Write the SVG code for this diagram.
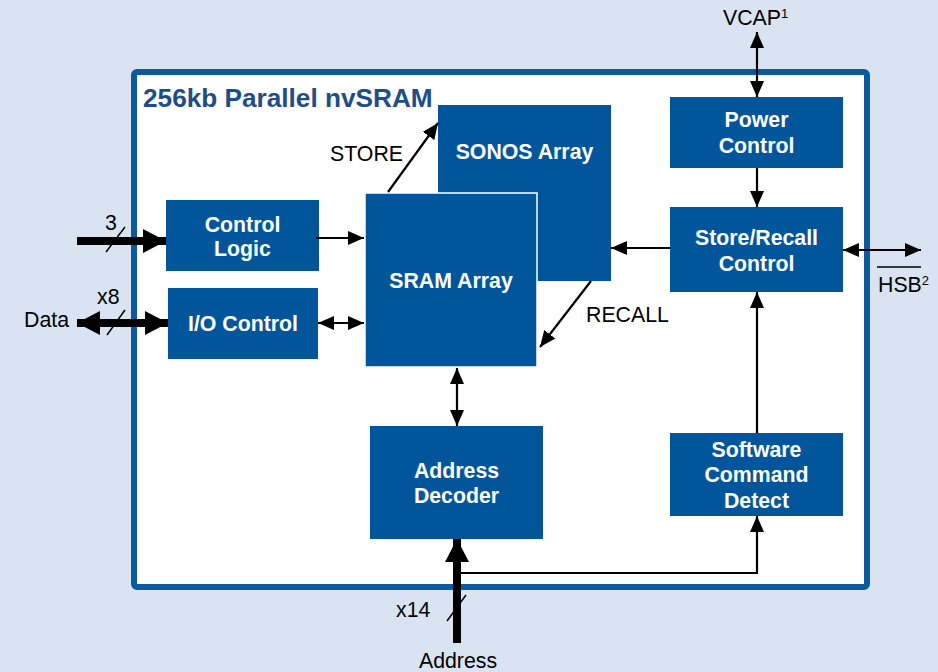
<svg xmlns="http://www.w3.org/2000/svg" width="938" height="672" viewBox="0 0 938 672">
<style>
.bg{fill:#D9E3F1}
.frame{fill:#FFFFFF;stroke:#0B5AA0;stroke-width:6}
.node{fill:#01559B}
.nt{font-family:"Liberation Sans",Arial,sans-serif;font-weight:bold;font-size:21.3px;fill:#FFFFFF;text-anchor:middle}
.lbl{font-family:"Liberation Sans",Arial,sans-serif;font-size:21.3px;fill:#000000}
.title{font-family:"Liberation Sans",Arial,sans-serif;font-weight:bold;font-size:26.2px;fill:#1F4D87}
.thin{stroke:#000;stroke-width:2.2;fill:none}
.thick{stroke:#000;stroke-width:8;fill:none}
.slash{stroke:#000;stroke-width:1.5;fill:none}
</style>
<defs>
<marker id="ah" viewBox="0 0 16 14" refX="16" refY="7" markerWidth="16" markerHeight="14" markerUnits="userSpaceOnUse" orient="auto-start-reverse">
<path d="M0,0 L16,7 L0,14 z" fill="#000"/>
</marker>
<marker id="AH" viewBox="0 0 23 24" refX="23" refY="12" markerWidth="23" markerHeight="24" markerUnits="userSpaceOnUse" orient="auto-start-reverse">
<path d="M0,0 L23,12 L0,24 z" fill="#000"/>
</marker>
</defs>
<rect class="bg" x="0" y="0" width="938" height="672"/>
<rect class="frame" x="134" y="72" width="733" height="515" rx="3"/>
<text class="title" x="143" y="107">256kb Parallel nvSRAM</text>

<g id="control-logic"><rect class="node" x="166" y="200" width="153" height="71"/><text class="nt" x="242.5" y="232">Control</text><text class="nt" x="242.5" y="256">Logic</text></g>
<g id="io-control"><rect class="node" x="168" y="288" width="150" height="71"/><text class="nt" x="243" y="331">I/O Control</text></g>
<g id="sonos-array"><rect class="node" x="438" y="105" width="173" height="176"/><text class="nt" x="524.5" y="159">SONOS Array</text></g>
<g id="sram-array"><rect class="node" x="365" y="193" width="172" height="174" stroke="#FFFFFF" stroke-width="1.5"/><text class="nt" x="451" y="288">SRAM Array</text></g>
<g id="power-control"><rect class="node" x="670" y="97" width="173" height="71"/><text class="nt" x="756.5" y="127">Power</text><text class="nt" x="756.5" y="153">Control</text></g>
<g id="store-recall-control"><rect class="node" x="670" y="207" width="173" height="85"/><text class="nt" x="756.5" y="245">Store/Recall</text><text class="nt" x="756.5" y="271">Control</text></g>
<g id="address-decoder"><rect class="node" x="370" y="426" width="173" height="113"/><text class="nt" x="456.5" y="478">Address</text><text class="nt" x="456.5" y="503">Decoder</text></g>
<g id="software-command-detect"><rect class="node" x="670" y="433" width="173" height="83"/><text class="nt" x="756.5" y="457">Software</text><text class="nt" x="756.5" y="482">Command</text><text class="nt" x="756.5" y="508">Detect</text></g>

<g id="connectors">
<line class="thick" x1="77" y1="241" x2="166" y2="241" marker-end="url(#AH)"/>
<line class="slash" x1="106" y1="252" x2="125" y2="227"/>
<line class="thick" x1="77" y1="323" x2="168" y2="323" marker-start="url(#AH)" marker-end="url(#AH)"/>
<line class="slash" x1="107" y1="335" x2="125" y2="310"/>
<line class="thin" x1="316" y1="238" x2="364" y2="238" marker-end="url(#ah)"/>
<line class="thin" x1="318" y1="323" x2="364" y2="323" marker-start="url(#ah)" marker-end="url(#ah)"/>
<line class="thin" x1="388" y1="192" x2="438" y2="123" marker-end="url(#ah)"/>
<line class="thin" x1="591" y1="281" x2="540" y2="347" marker-end="url(#ah)"/>
<line class="thin" x1="670" y1="248" x2="611" y2="248" marker-end="url(#ah)"/>
<line class="thin" x1="757" y1="32" x2="757" y2="97" marker-start="url(#ah)" marker-end="url(#ah)"/>
<line class="thin" x1="757" y1="168" x2="757" y2="207" marker-end="url(#ah)"/>
<line class="thin" x1="843" y1="250" x2="921" y2="250" marker-start="url(#ah)" marker-end="url(#ah)"/>
<line class="thin" x1="757" y1="433" x2="757" y2="292" marker-end="url(#ah)"/>
<line class="thin" x1="457" y1="368" x2="457" y2="426" marker-start="url(#ah)" marker-end="url(#ah)"/>
<polyline class="thin" points="457,573 757,573 757,516" marker-end="url(#ah)"/>
<line class="thick" x1="457" y1="643" x2="457" y2="539" marker-end="url(#AH)"/>
<line class="slash" x1="447" y1="621" x2="466" y2="595"/>
<line x1="877" y1="267" x2="921" y2="267" stroke="#000" stroke-width="1.5"/>
</g>

<text class="lbl" x="105" y="230">3</text>
<text class="lbl" x="97" y="304">x8</text>
<text class="lbl" x="24" y="327">Data</text>
<text class="lbl" x="330" y="161">STORE</text>
<text class="lbl" x="586" y="322">RECALL</text>
<text class="lbl" x="723" y="25">VCAP<tspan font-size="13" dy="-7">1</tspan></text>
<text class="lbl" x="878" y="292">HSB<tspan font-size="13" dy="-7">2</tspan></text>
<text class="lbl" x="396" y="617">x14</text>
<text class="lbl" x="458" y="668" text-anchor="middle">Address</text>
</svg>
